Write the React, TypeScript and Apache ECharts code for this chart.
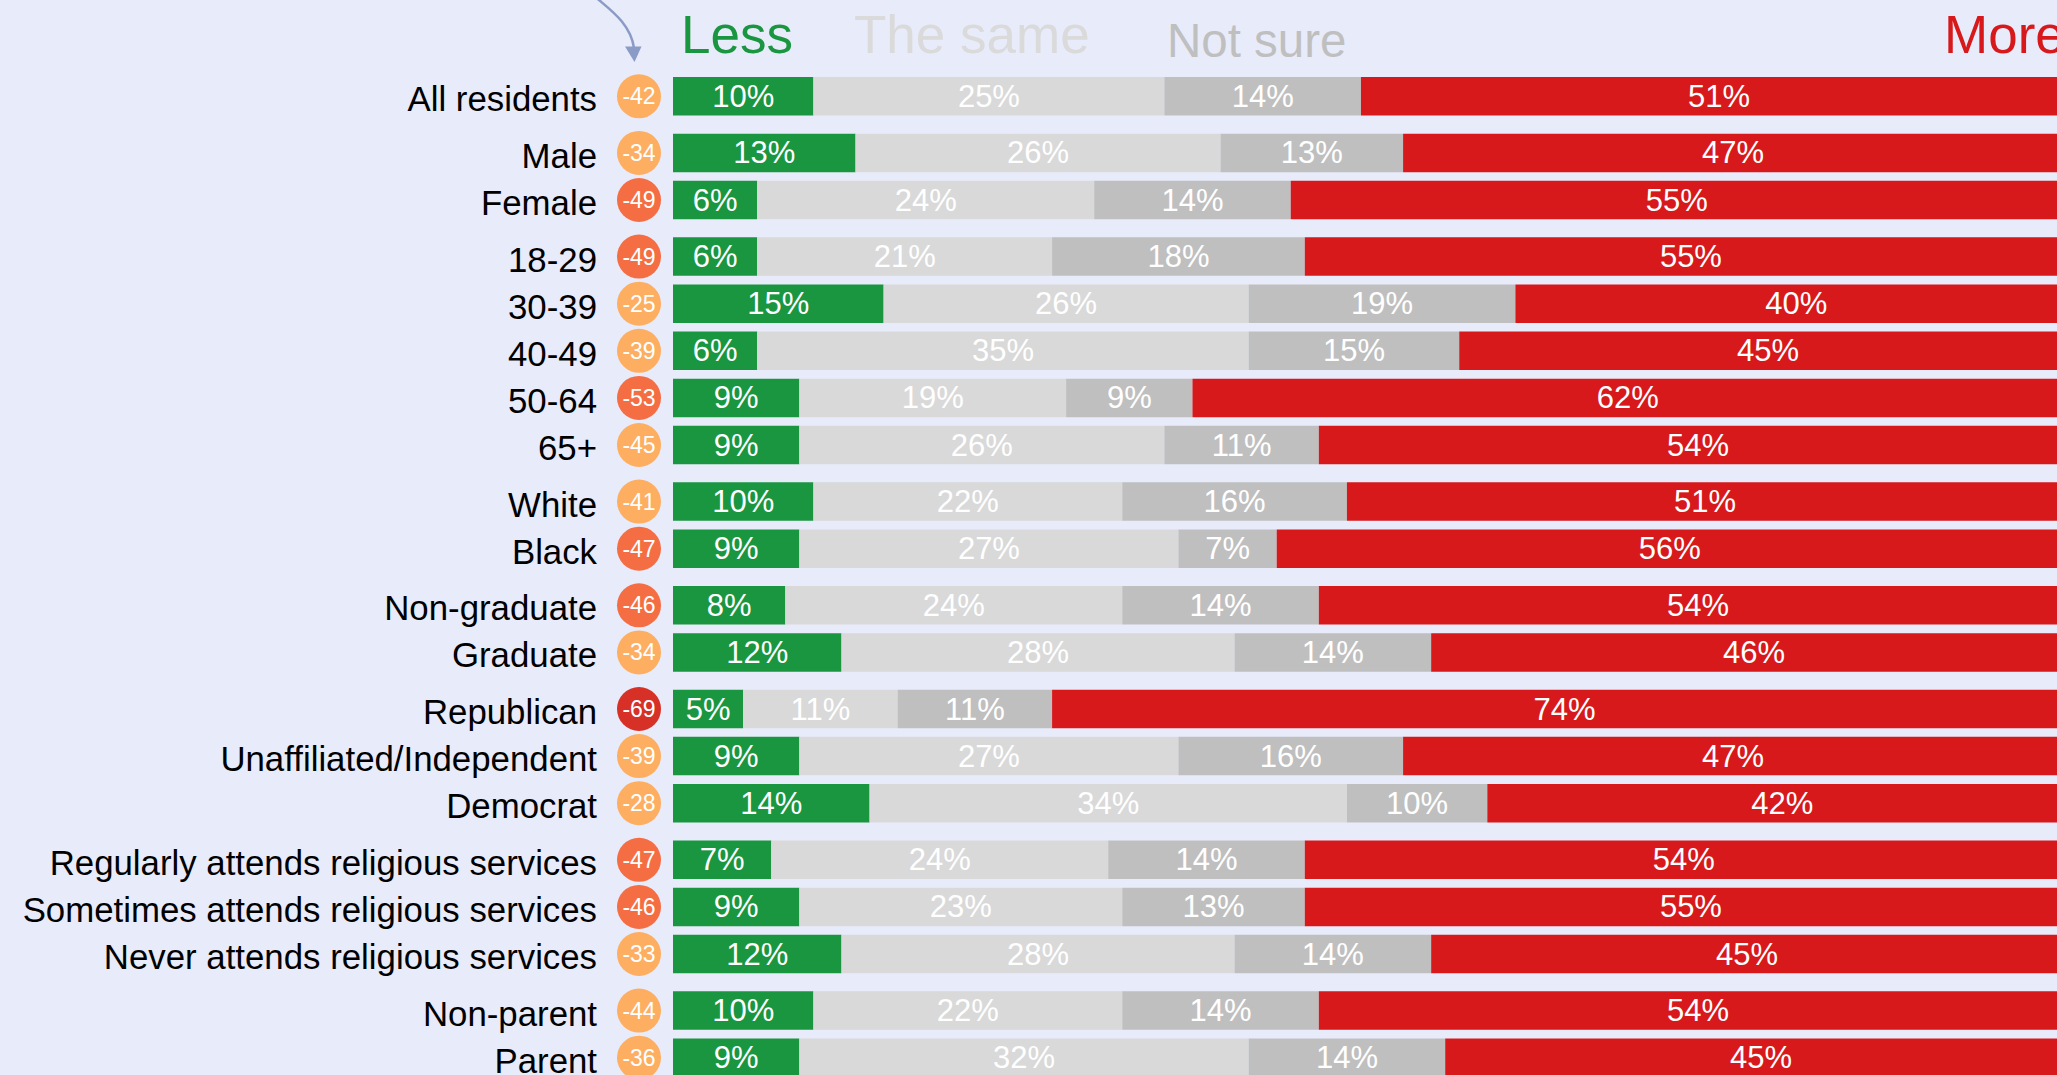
import React, { useEffect, useRef } from "react";
import * as echarts from "echarts";

const categories = [
  "All residents",
  "Male",
  "Female",
  "18-29",
  "30-39",
  "40-49",
  "50-64",
  "65+",
  "White",
  "Black",
  "Non-graduate",
  "Graduate",
  "Republican",
  "Unaffiliated/Independent",
  "Democrat",
  "Regularly attends religious services",
  "Sometimes attends religious services",
  "Never attends religious services",
  "Non-parent",
  "Parent",
];
const groupSizes = [1, 2, 5, 2, 2, 3, 3, 2];
const lessValues = [10, 13, 6, 6, 15, 6, 9, 9, 10, 9, 8, 12, 5, 9, 14, 7, 9, 12, 10, 9];
const sameValues = [25, 26, 24, 21, 26, 35, 19, 26, 22, 27, 24, 28, 11, 27, 34, 24, 23, 28, 22, 32];
const notSureValues = [14, 13, 14, 18, 19, 15, 9, 11, 16, 7, 14, 14, 11, 16, 10, 14, 13, 14, 14, 14];
const moreValues = [51, 47, 55, 55, 40, 45, 62, 54, 51, 56, 54, 46, 74, 47, 42, 54, 55, 45, 54, 45];
const netScores = [-42, -34, -49, -49, -25, -39, -53, -45, -41, -47, -46, -34, -69, -39, -28, -47, -46, -33, -44, -36];
const seriesNames = ["Less", "The same", "Not sure", "More"];
const seriesColors = ["#1A9641", "#D9D9D9", "#BFBFBF", "#D7191C"];

const FONT = "'Liberation Sans', Arial, sans-serif";

// layout constants
const FIRST_CENTER = 96.3;
const PITCH = 47.1;
const GROUP_GAP = 9.5;
const GRID_LEFT = 673;
const GRID_WIDTH = 1404;
const BAR_WIDTH = 38.5;

function bucket(v: number): string {
  if (v <= -60) return "hi";
  if (v <= -46) return "mid";
  return "lo";
}

function circleStyle(color: string) {
  return {
    width: 44,
    height: 44,
    lineHeight: 44,
    borderRadius: 22,
    backgroundColor: color,
    color: "#ffffff",
    fontSize: 23,
    align: "center",
    fontFamily: FONT,
  };
}

export default function App() {
  const ref = useRef<HTMLDivElement>(null);

  useEffect(() => {
    document.body.style.margin = "0";
    if (!ref.current) return;
    const chart = echarts.init(ref.current, undefined, { renderer: "svg" });

    const seriesValues = [lessValues, sameValues, notSureValues, moreValues];
    const grids: any[] = [];
    const xAxes: any[] = [];
    const yAxes: any[] = [];
    const series: any[] = [];

    let start = 0;
    groupSizes.forEach((n, k) => {
      const top = FIRST_CENTER + PITCH * start + GROUP_GAP * k - PITCH / 2;
      grids.push({
        left: GRID_LEFT,
        top,
        width: GRID_WIDTH,
        height: PITCH * n,
        containLabel: false,
        outerBoundsMode: "none",
      });
      xAxes.push({ gridIndex: k, type: "value", min: 0, max: 100, show: false });
      const cats = categories.slice(start, start + n);
      const nets = netScores.slice(start, start + n);
      yAxes.push({
        gridIndex: k,
        type: "category",
        inverse: true,
        data: cats,
        axisLine: { show: false },
        axisTick: { show: false },
        splitLine: { show: false },
        axisLabel: {
          interval: 0,
          margin: 12,
          formatter: (v: string, i: number) => `{n|${v}}{${bucket(nets[i])}|${nets[i]}}`,
          rich: {
            n: { fontSize: 34.8, color: "#000000", fontFamily: FONT, padding: [5, 20, 0, 0] },
            lo: circleStyle("#FDAE61"),
            mid: circleStyle("#F46D43"),
            hi: circleStyle("#D73027"),
          },
        },
      });
      seriesValues.forEach((arr, s) => {
        series.push({
          type: "bar",
          name: seriesNames[s],
          xAxisIndex: k,
          yAxisIndex: k,
          stack: "g" + k,
          barWidth: BAR_WIDTH,
          data: arr.slice(start, start + n),
          itemStyle: { color: seriesColors[s] },
          label: {
            show: true,
            position: "inside",
            formatter: "{c}%",
            color: "#ffffff",
            fontSize: 31,
            fontFamily: FONT,
          },
        });
      });
      start += n;
    });

    const headerY = 34;
    chart.setOption({
      animation: false,
      backgroundColor: "#E8EBFA",
      grid: grids,
      xAxis: xAxes,
      yAxis: yAxes,
      series,
      graphic: [
        {
          type: "text",
          left: 681,
          top: headerY - 26.5,
          style: { text: seriesNames[0], fill: seriesColors[0], fontSize: 53, fontFamily: FONT },
        },
        {
          type: "text",
          left: 854,
          top: headerY - 26.5,
          style: { text: seriesNames[1], fill: "#DADADA", fontSize: 53, fontFamily: FONT },
        },
        {
          type: "text",
          left: 1167,
          top: 40 - 23.75,
          style: { text: seriesNames[2], fill: seriesColors[2], fontSize: 47.5, fontFamily: FONT },
        },
        {
          type: "text",
          left: 1944,
          top: headerY - 26.5,
          style: { text: seriesNames[3], fill: seriesColors[3], fontSize: 53, fontFamily: FONT },
        },
        {
          type: "bezierCurve",
          shape: { x1: 590, y1: -8, cpx1: 604, cpy1: 6, cpx2: 630, cpy2: 20, x2: 634, y2: 48 },
          style: { stroke: "#8A9BC6", lineWidth: 2.5, fill: null },
        },
        {
          type: "polygon",
          shape: { points: [[625, 46.5], [641.5, 46.5], [634.5, 62]] },
          style: { fill: "#8A9BC6" },
        },
      ],
    });

    return () => {
      chart.dispose();
    };
  }, []);

  return (
    <div
      ref={ref}
      style={{ position: "fixed", left: 0, top: 0, width: 2057, height: 1075 }}
    />
  );
}
